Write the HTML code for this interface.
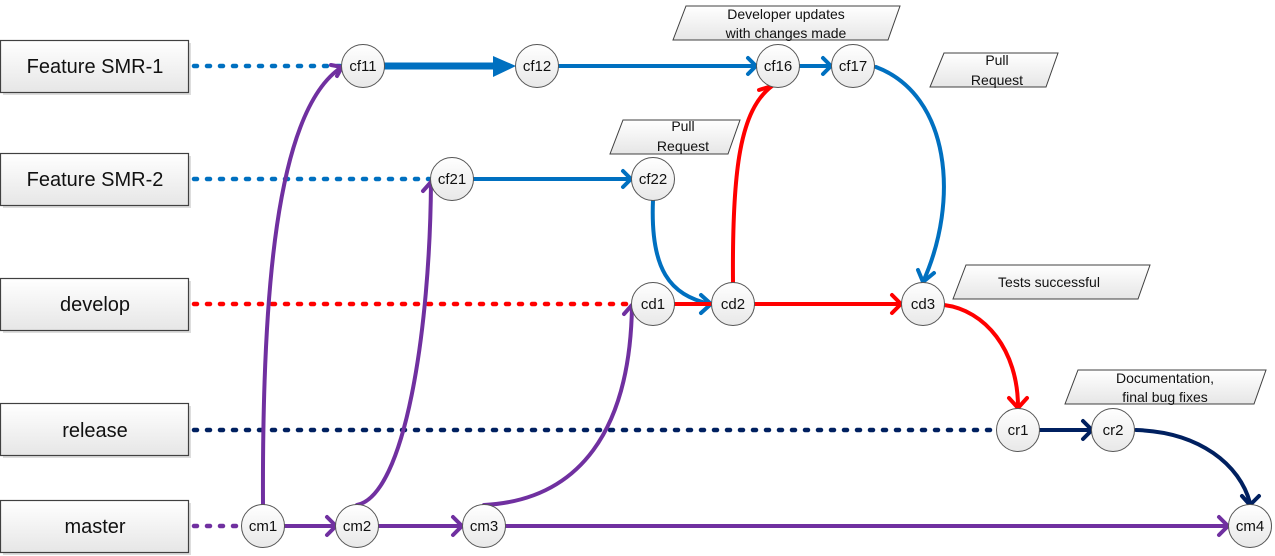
<!DOCTYPE html>
<html><head><meta charset="utf-8"><style>
html,body{margin:0;padding:0;background:#fff;}
svg{display:block;}
text{font-family:"Liberation Sans",sans-serif;}
</style></head><body>
<svg width="1275" height="556" viewBox="0 0 1275 556" xmlns="http://www.w3.org/2000/svg">
<defs>
<linearGradient id="g" x1="0" y1="0" x2="0" y2="1"><stop offset="0" stop-color="#ffffff"/><stop offset="1" stop-color="#e6e6e6"/></linearGradient>
<linearGradient id="gc" x1="0" y1="0" x2="0" y2="1"><stop offset="0" stop-color="#ffffff"/><stop offset="1" stop-color="#e8e8e8"/></linearGradient>
</defs>

<g stroke="#404040" stroke-width="1.2" fill="url(#g)">
<rect x="3" y="43" width="188" height="52" fill="#ddd" stroke="none"/>
<rect x="0.5" y="40.5" width="188" height="52"/>
<rect x="3" y="156" width="188" height="52" fill="#ddd" stroke="none"/>
<rect x="0.5" y="153.5" width="188" height="52"/>
<rect x="3" y="281" width="188" height="52" fill="#ddd" stroke="none"/>
<rect x="0.5" y="278.5" width="188" height="52"/>
<rect x="3" y="406" width="188" height="52" fill="#ddd" stroke="none"/>
<rect x="0.5" y="403.5" width="188" height="52"/>
<rect x="3" y="503" width="188" height="52" fill="#ddd" stroke="none"/>
<rect x="0.5" y="500.5" width="188" height="52"/>
</g>
<g font-size="20" fill="#111" text-anchor="middle">
<text x="95" y="73">Feature SMR-1</text>
<text x="95" y="186">Feature SMR-2</text>
<text x="95" y="311">develop</text>
<text x="95" y="437">release</text>
<text x="95" y="533">master</text>
</g>

<g stroke="#404040" stroke-width="1" fill="url(#g)">
<polygon points="686,6 900,6 888,40 673,40"/>
<polygon points="944,53 1058,53 1046,87 930,87"/>
<polygon points="623,120 740,120 728,154 610,154"/>
<polygon points="966,265 1150,265 1138,299 953,299"/>
<polygon points="1078,370 1266,370 1254,404 1065,404"/>
</g>
<g font-size="14" fill="#111" text-anchor="middle">
<text x="786" y="19">Developer updates</text>
<text x="786" y="38">with changes made</text>
<text x="997" y="65">Pull</text>
<text x="997" y="85">Request</text>
<text x="683" y="131">Pull</text>
<text x="683" y="151">Request</text>
<text x="1049" y="287">Tests successful</text>
<text x="1165" y="383">Documentation,</text>
<text x="1165" y="402">final bug fixes</text>
</g>

<g stroke-width="4.5" stroke-dasharray="3,10" stroke-linecap="round" fill="none">
<line x1="194" y1="66" x2="340" y2="66" stroke="#0070C0"/>
<line x1="194" y1="179" x2="429" y2="179" stroke="#0070C0"/>
<line x1="194" y1="304" x2="630" y2="304" stroke="#FF0000"/>
<line x1="194" y1="430" x2="995" y2="430" stroke="#002060"/>
<line x1="194" y1="526" x2="240" y2="526" stroke="#7030A0"/>
</g>

<g fill="none" stroke-width="4" stroke-linecap="round" stroke-linejoin="round">
<line x1="385" y1="66" x2="500" y2="66" stroke="#0070C0" stroke-width="7"/>
<polygon points="493,56 516,66 493,77" fill="#0070C0" stroke="none"/>
<line x1="559" y1="66" x2="755" y2="66" stroke="#0070C0"/>
<polyline points="748,58 756,66 748,74" stroke="#0070C0"/>
<line x1="800" y1="66" x2="830" y2="66" stroke="#0070C0"/>
<polyline points="823,58 831,66 823,74" stroke="#0070C0"/>
<path d="M876,67 C950,95 960,200 923,282" stroke="#0070C0"/>
<polyline points="918,270 923,282 934,273" stroke="#0070C0"/>
<line x1="474" y1="179" x2="630" y2="179" stroke="#0070C0"/>
<polyline points="623,171 631,179 623,187" stroke="#0070C0"/>
<path d="M653,200 C650,270 670,295 710,304" stroke="#0070C0"/>
<polyline points="701,295 711,304 701,313" stroke="#0070C0"/>
<line x1="674" y1="304" x2="710" y2="304" stroke="#FF0000"/>
<line x1="755" y1="304" x2="900" y2="304" stroke="#FF0000"/>
<polyline points="892,295 901,304 892,313" stroke="#FF0000"/>
<path d="M733,283 C732,170 740,110 772,86" stroke="#FF0000"/>
<polyline points="759,90 772,86 770,78" stroke="#FF0000"/>
<path d="M944,305 C985,310 1018,350 1018,407" stroke="#FF0000"/>
<polyline points="1009,398 1018,408 1027,398" stroke="#FF0000"/>
<line x1="1040" y1="430" x2="1091" y2="430" stroke="#002060"/>
<polyline points="1083,421 1092,430 1083,439" stroke="#002060"/>
<path d="M1136,430 C1200,432 1240,465 1250,503" stroke="#002060"/>
<polyline points="1242,496 1250,505 1259,496" stroke="#002060"/>
<line x1="285" y1="526" x2="335" y2="526" stroke="#7030A0"/>
<polyline points="327,517 336,526 327,535" stroke="#7030A0"/>
<line x1="379" y1="526" x2="461" y2="526" stroke="#7030A0"/>
<polyline points="453,517 462,526 453,535" stroke="#7030A0"/>
<line x1="506" y1="526" x2="1227" y2="526" stroke="#7030A0"/>
<polyline points="1219,517 1228,526 1219,535" stroke="#7030A0"/>
<path d="M263,505 C262,300 275,110 342,67" stroke="#7030A0"/>
<polyline points="331,65 342,67 337,76" stroke="#7030A0"/>
<path d="M357,505 C405,495 430,330 431,182" stroke="#7030A0"/>
<polyline points="423,191 431,182 438,191" stroke="#7030A0"/>
<path d="M484,505 C580,500 630,430 632,306" stroke="#7030A0"/>
<polyline points="624,314 632,305 640,313" stroke="#7030A0"/>
</g>

<g stroke="#555" stroke-width="1" fill="url(#gc)">
<circle cx="363" cy="66" r="21.5"/>
<circle cx="537" cy="66" r="21.5"/>
<circle cx="778" cy="66" r="21.5"/>
<circle cx="853" cy="66" r="21.5"/>
<circle cx="452" cy="179" r="21.5"/>
<circle cx="653" cy="179" r="21.5"/>
<circle cx="653" cy="304" r="21.5"/>
<circle cx="733" cy="304" r="21.5"/>
<circle cx="923" cy="304" r="21.5"/>
<circle cx="1018" cy="430" r="21.5"/>
<circle cx="1113" cy="430" r="21.5"/>
<circle cx="263" cy="526" r="21.5"/>
<circle cx="357" cy="526" r="21.5"/>
<circle cx="484" cy="526" r="21.5"/>
<circle cx="1250" cy="526" r="21.5"/>
</g>
<g font-size="15" fill="#111" text-anchor="middle">
<text x="363" y="71">cf11</text>
<text x="537" y="71">cf12</text>
<text x="778" y="71">cf16</text>
<text x="853" y="71">cf17</text>
<text x="452" y="184">cf21</text>
<text x="653" y="184">cf22</text>
<text x="653" y="309">cd1</text>
<text x="733" y="309">cd2</text>
<text x="923" y="309">cd3</text>
<text x="1018" y="435">cr1</text>
<text x="1113" y="435">cr2</text>
<text x="263" y="531">cm1</text>
<text x="357" y="531">cm2</text>
<text x="484" y="531">cm3</text>
<text x="1250" y="531">cm4</text>
</g>
</svg>
</body></html>
